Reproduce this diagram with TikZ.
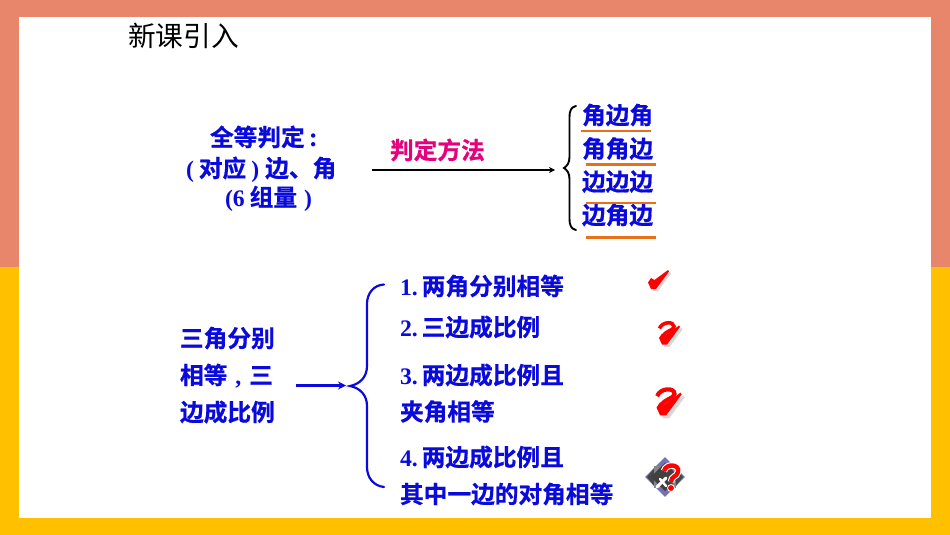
\documentclass[tikz,border=0pt]{standalone}
\usepackage{fontspec}
\usetikzlibrary{arrows.meta}
\setmainfont{Liberation Serif}[BoldFont={Liberation Serif Bold}]
\newfontfamily\cjkb[FakeBold=0.7]{Noto Sans CJK SC Bold}
\newfontfamily\cjkr{Noto Sans CJK SC}
\newfontfamily\latb{Liberation Serif Bold}
\definecolor{salmon}{HTML}{E8866C}
\definecolor{amber}{HTML}{FFC000}
\definecolor{txtblue}{HTML}{0A0ADC}
\definecolor{pinkt}{HTML}{E6007E}
\definecolor{orangeline}{HTML}{E8701A}
\tikzset{
  bt/.style={inner sep=0pt,outer sep=0pt,anchor=base west,text=txtblue,font=\cjkb\fontsize{23.7}{28}\selectfont},
  uline/.style={orangeline,line width=2.8pt},
  bluebrace/.style={draw=txtblue,line width=2.2pt,line cap=round},
  blackbrace/.style={draw=black,line width=1.9pt,line cap=round},
  markred/.style={fill=red,draw=none},
  markshadow/.style={fill=black!30,draw=none,opacity=.5}
}
\newcommand{\tickmark}{%
  (-10,3) -- (-7,-1.5) -- (-3.5,0.5) -- (10,-9.5) -- (11,-8) -- (-2,9.5) -- (-7,9.5) -- cycle}
\newcommand{\hookmark}{%
  (-9.5,-6.5) .. controls (-7,-13.5) and (5,-14) .. (5,-8.5) .. controls (5,-4) and (-4,-5) .. (-6,2)}
\begin{document}
\begin{tikzpicture}[x=1pt,y=-1pt]
\useasboundingbox (0,0) rectangle (950,535);
\fill[salmon] (0,0) rectangle (950,267);
\fill[amber] (0,267) rectangle (950,535);
\fill[white] (19,17) rectangle (931,518);

\node[inner sep=0pt,anchor=base west,font=\cjkr\fontsize{27.7}{30}\selectfont] (title) at (128,47) {新课引入};

% top-left block
\node[bt] (t1) at (210,146) {全等判定{\latb\,\fontsize{27}{28}\selectfont :}};
\node[bt] (t2) at (186,177) {{\latb (}\hspace{5pt}对应\hspace{5pt}{\latb )}\hspace{6pt}边、角};
\node[bt] (t3) at (225,206) {{\latb (6}\hspace{5pt}组量\hspace{7pt}{\latb )}};

% arrow and label
\node[bt,text=pinkt] (method) at (390,159) {判定方法};
\coordinate (a0) at (372,170);
\coordinate (a1) at (555,170);
\draw[line width=1.4pt,-{Stealth[length=6pt,width=6pt]}] (a0) -- (a1);

% black brace
\coordinate (bt0) at (576,106);
\coordinate (bm) at (564,168);
\coordinate (bb0) at (576,230);
\draw[blackbrace] (bt0) .. controls (571,107) and (569.5,111) .. (569.5,117) -- (569.5,157)
  .. controls (569.5,163) and (567,166) .. (bm)
  .. controls (567,170) and (569.5,173) .. (569.5,179) -- (569.5,219)
  .. controls (569.5,225) and (571,229) .. (bb0);

% four criteria
\node[bt] (c1) at (582,124) {角边角};
\node[bt] (c2) at (582,157.5) {角角边};
\node[bt] (c3) at (582,190.5) {边边边};
\node[bt] (c4) at (582,224) {边角边};
\draw[uline] (581,131) -- (651,131);
\draw[uline] (586,164.5) -- (656,164.5);
\draw[uline] (586,203) -- (656,203);
\draw[uline] (586,237.5) -- (656,237.5);

% lower-left block
\node[bt] (l1) at (180,347) {三角分别};
\node[bt] (l2) at (180,384) {相等\hspace{8pt}{\latb ,}\hspace{8pt}三};
\node[bt] (l3) at (180,421) {边成比例};

% blue arrow and brace
\coordinate (ba0) at (296,385.5);
\coordinate (ba1) at (346,385.5);
\draw[draw=txtblue,line width=2.8pt,-{Stealth[length=8pt,width=8pt]}] (ba0) -- (ba1);
\coordinate (ct) at (384,284.5);
\coordinate (cm) at (350,386);
\coordinate (cb) at (384,487);
\draw[bluebrace] (ct) .. controls (374,285) and (367,293) .. (367,304) -- (367,366)
  .. controls (367,377) and (360,384) .. (cm)
  .. controls (360,388) and (367,395) .. (367,406) -- (367,467)
  .. controls (367,478) and (374,486) .. (cb);

% conditions
\node[bt] (n1) at (400,295) {{\latb 1.\,}两角分别相等};
\node[bt] (n2) at (400,336) {{\latb 2.\,}三边成比例};
\node[bt] (n3) at (400,384) {{\latb 3.\,}两边成比例且};
\node[bt] (n3b) at (400,420.5) {夹角相等};
\node[bt] (n4) at (400,466) {{\latb 4.\,}两边成比例且};
\node[bt] (n4b) at (400,503) {其中一边的对角相等};

% marks
\begin{scope}[shift={(658,279.5)}]
\fill[markshadow,shift={(2,2)}] \tickmark;
\fill[markred] \tickmark;
\end{scope}
\begin{scope}[shift={(669,335)}]
\fill[markshadow,shift={(2.5,2.5)}] \tickmark;
\fill[markred] \tickmark;
\draw[red,line width=3.6pt] \hookmark;
\end{scope}
\begin{scope}[shift={(668.5,404)},scale=1.2]
\fill[markshadow,shift={(2.5,2.5)}] \tickmark;
\fill[markred] \tickmark;
\draw[red,line width=4.2pt] \hookmark;
\end{scope}

% question icon
\begin{scope}[shift={(665,477)}]
\fill[black!55!blue!55!white,rotate=45] (-14,-14) rectangle (14,14);
\fill[black!72] (-18,0) -- (-10,-10) -- (10,-10) -- (18,0) -- (10,10) -- (-10,10) -- cycle;
\fill[black!48] (-11,-11) rectangle (11,11);
\fill[black!75,rotate=45] (-10,-10) rectangle (10,10);
\draw[white,line width=3pt,line cap=round] (-8,10) -- (1,1);
\draw[white,line width=2.4pt,line cap=round] (-5,2) -- (1,9);
\draw[white,line width=6.6pt] (-1,-6) .. controls (1,-14) and (15,-13) .. (13,-5) .. controls (12,0) and (6,-1) .. (6,5);
\draw[red,line width=4.4pt] (-1,-6) .. controls (1,-14) and (15,-13) .. (13,-5) .. controls (12,0) and (6,-1) .. (6,5);
\fill[white] (6,11) circle (3.9);
\fill[red] (6,11) circle (2.9);
\end{scope}
\end{tikzpicture}
\end{document}
